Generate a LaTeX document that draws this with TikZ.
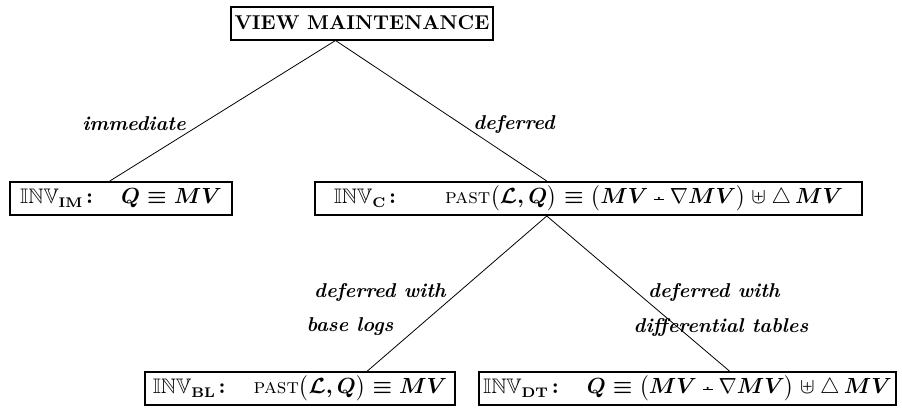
\documentclass[tikz,border=0pt]{standalone}
\usepackage{amsmath,amssymb}
\usetikzlibrary{calc}
\tikzset{
  box/.style={draw, line width=1pt, inner xsep=2pt, inner ysep=0pt,
              minimum height=16.5pt,
              font=\fontsize{10.5}{12}\selectfont\boldmath},
  link/.style={line width=0.4pt},
  lbl/.style={font=\bfseries\itshape, inner sep=0pt},
}
% invariant name with a small bold subscript
\newcommand{\invname}[1]{\mathbb{INV}_{\mbox{\scriptsize\bfseries #1}}}
% thin operators inside bold formulas
\newcommand{\dminus}{\mathbin{\mbox{\ooalign{\rule[0.42ex]{0.5em}{0.1ex}\cr
  \hidewidth\raisebox{0.5ex}{.}\hidewidth\cr}}}}
\newcommand{\tnabla}{\mbox{\unboldmath$\nabla$}}
\newcommand{\tuplus}{\mathbin{\mbox{\unboldmath$\uplus$}}}
\newcommand{\tdelta}{\mbox{\unboldmath$\triangle$}\,}
\newcommand{\pastop}{\mbox{\normalfont\textsc{past}}}
\begin{document}
\begin{tikzpicture}[x=0.5pt,y=-0.5pt]
\useasboundingbox (0,0) rectangle (902,409);

% boxes
\node[box, font=\bfseries] (vm) at (362,23) {VIEW MAINTENANCE};
\node[box, minimum width=111pt] (im) at (121,198.5)
  {$\invname{IM}\!:\quad Q\equiv MV$};
\node[box, minimum width=273.5pt] (c) at (588.5,198.5)
  {$\invname{C}\!:\qquad \pastop\bigl(\mathcal{L},Q\bigr)\equiv
    \bigl(MV\dminus\tnabla MV\bigr)\tuplus\tdelta MV$};
\node[box, minimum width=155pt] (bl) at (300,388.5)
  {$\invname{BL}\!:\quad \pastop\bigl(\mathcal{L},Q\bigr)\equiv MV$};
\node[box, minimum width=204.5pt] (dt) at (687.5,388.5)
  {$\invname{DT}\!:\quad Q\equiv\bigl(MV\dminus\tnabla MV\bigr)\tuplus\tdelta MV$};

% attachment points along box edges
\coordinate (vmb) at ($(vm.south west)!0.40!(vm.south east)$);
\coordinate (imt) at ($(im.north west)!0.45!(im.north east)$);
\coordinate (ct)  at ($(c.north west)!0.424!(c.north east)$);
\coordinate (cb)  at ($(c.south west)!0.424!(c.south east)$);
\coordinate (blt) at ($(bl.north west)!0.716!(bl.north east)$);
\coordinate (dtt) at ($(dt.north west)!0.6!(dt.north east)$);

% connectors
\draw[link] (vmb) -- (imt);
\draw[link] (vmb) -- (ct);
\draw[link] (cb) -- (blt);
\draw[link] (cb) -- (dtt);

% edge labels
\node[lbl] (l1) at (134,124) {immediate};
\node[lbl] (l2) at (514,124) {deferred};
\node[lbl] (l3) at (380,292) {deferred with};
\node[lbl] (l4) at (350,327) {base logs};
\node[lbl] (l5) at (714,292) {deferred with};
\node[lbl] (l6) at (721,327) {differential tables};
\end{tikzpicture}
\end{document}
